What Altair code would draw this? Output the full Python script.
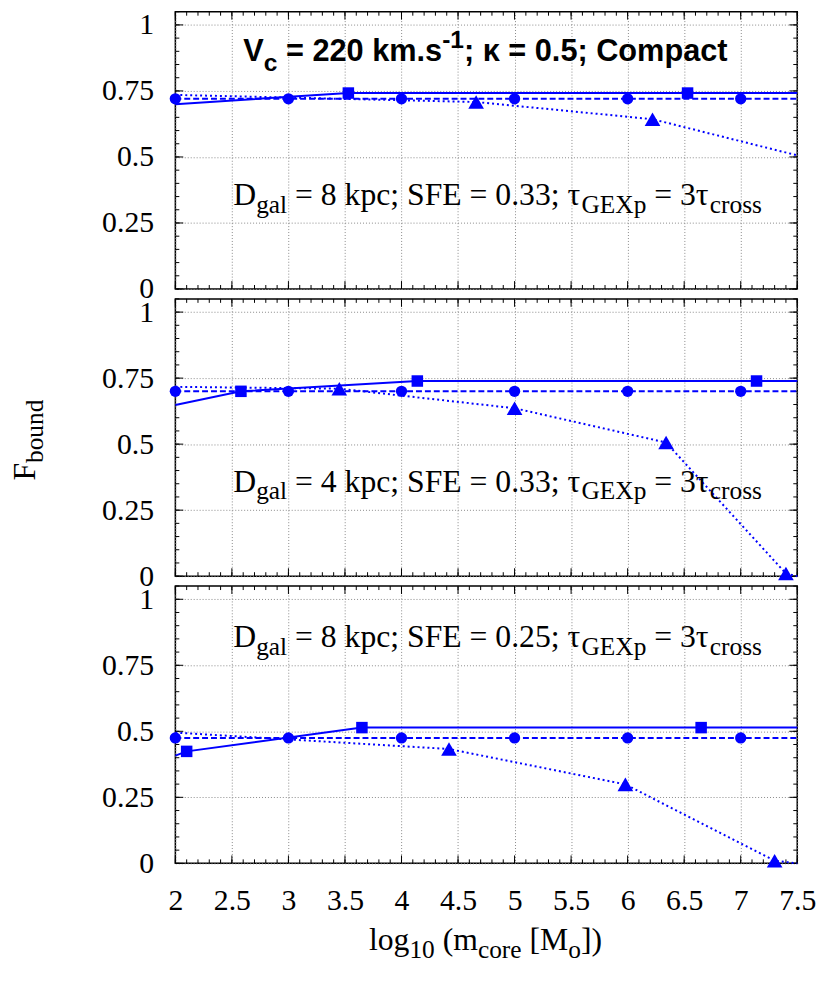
import altair as alt
import pandas as pd
import numpy as np

BLUE = "#0000ff"
GRID = "#8a8a8a"
SERIF = "Liberation Serif"
SANS = "Liberation Sans"
W, H = 628, 280

X_DOMAIN = [2, 7.5]
Y_DOMAIN = [0, 1.05]
X_TICKS = [2, 2.5, 3, 3.5, 4, 4.5, 5, 5.5, 6, 6.5, 7, 7.5]
Y_TICKS = [0, 0.25, 0.5, 0.75, 1]

# ---------------- data ----------------
# Panel 1: D_gal = 8 kpc; SFE = 0.33
p1_circ_x = [2, 3, 4, 5, 6, 7]
p1_circ_y = [0.72, 0.72, 0.72, 0.72, 0.72, 0.72]
p1_dash_x = [2, 3, 4, 5, 6, 7, 7.5]
p1_dash_y = [0.72, 0.72, 0.72, 0.72, 0.72, 0.72, 0.72]
p1_solid_x = [2, 3.53, 6.53, 7.5]
p1_solid_y = [0.70, 0.742, 0.742, 0.742]
p1_sq_x = [3.53, 6.53]
p1_sq_y = [0.742, 0.742]
p1_dot_x = [2, 4.66, 6.22, 7.5]
p1_dot_y = [0.735, 0.708, 0.643, 0.506]
p1_tri_x = [4.66, 6.22]
p1_tri_y = [0.708, 0.643]

# Panel 2: D_gal = 4 kpc; SFE = 0.33
p2_circ_x = [2, 3, 4, 5, 6, 7]
p2_circ_y = [0.70, 0.70, 0.70, 0.70, 0.70, 0.70]
p2_dash_x = [2, 3, 4, 5, 6, 7, 7.5]
p2_dash_y = [0.70, 0.70, 0.70, 0.70, 0.70, 0.70, 0.70]
p2_solid_x = [2, 2.58, 4.14, 7.14, 7.5]
p2_solid_y = [0.648, 0.70, 0.739, 0.739, 0.739]
p2_sq_x = [2.58, 4.14, 7.14]
p2_sq_y = [0.70, 0.739, 0.739]
p2_dot_x = [2, 3.45, 5.0, 6.34, 7.40, 7.5]
p2_dot_y = [0.717, 0.710, 0.636, 0.506, 0.01, 0.0]
p2_tri_x = [3.45, 5.0, 6.34, 7.40]
p2_tri_y = [0.710, 0.636, 0.506, 0.01]

# Panel 3: D_gal = 8 kpc; SFE = 0.25
p3_circ_x = [2, 3, 4, 5, 6, 7]
p3_circ_y = [0.475, 0.475, 0.475, 0.475, 0.475, 0.475]
p3_dash_x = [2, 3, 4, 5, 6, 7, 7.5]
p3_dash_y = [0.475, 0.475, 0.475, 0.475, 0.475, 0.475, 0.475]
p3_solid_x = [2, 2.1, 3.65, 6.65, 7.5]
p3_solid_y = [0.408, 0.424, 0.514, 0.514, 0.514]
p3_sq_x = [2.1, 3.65, 6.65]
p3_sq_y = [0.424, 0.514, 0.514]
p3_dot_x = [2, 4.42, 5.98, 7.30, 7.5]
p3_dot_y = [0.495, 0.433, 0.299, 0.01, 0.0]
p3_tri_x = [4.42, 5.98, 7.30]
p3_tri_y = [0.433, 0.299, 0.01]

# ---------------- text helpers ----------------
TIMES = {' ': 250, '=': 564, '.': 250, ';': 278, '(': 333, ')': 333, '[': 333, ']': 333,
         'a': 444, 'b': 500, 'c': 444, 'd': 500, 'e': 444, 'g': 500, 'k': 500, 'l': 278,
         'm': 778, 'n': 500, 'o': 500, 'p': 500, 'r': 333, 's': 389, 'u': 500, 'x': 500,
         'D': 722, 'E': 611, 'F': 556, 'G': 722, 'M': 889, 'S': 556, 'X': 722, '\u03c4': 440}
HELVB = {' ': 278, '=': 584, '.': 278, ';': 333, '-': 333, 'C': 722, 'V': 667, 'a': 556,
         'c': 556, 'k': 556, 'm': 889, 'o': 611, 'p': 611, 's': 556, 't': 333, '\u03ba': 580}


def seg_width(text, table, fs):
    return sum(table.get(c, 500 if table is TIMES else 556) for c in text) * fs / 1000.0


def rich(segs, x0, y0, size, font, table, weight="normal", scale=0.8,
         sub_dy=8, sup_dy=-12, angle=0, center=False):
    layers = []
    if center:
        total = sum(seg_width(t, table, size if k == "n" else size * scale) for t, k in segs)
        x0 = x0 - total / 2.0
    pos = 0.0
    for text, kind in segs:
        fs = size if kind == "n" else size * scale
        off = 0 if kind == "n" else (sub_dy if kind == "sub" else sup_dy)
        lead = len(text) - len(text.lstrip(' '))
        core = text.strip(' ')
        start = pos + seg_width(' ' * lead, table, fs)
        if angle == 0:
            px, py = x0 + start, y0 + off
        else:
            px, py = x0 + off, y0 - start
        layers.append(
            alt.Chart(pd.DataFrame({"t": [core]}))
            .mark_text(align="left", baseline="alphabetic", font=font, fontSize=fs,
                       fontWeight=weight, angle=angle, color="black")
            .encode(x=alt.value(px), y=alt.value(py), text="t:N")
        )
        pos += seg_width(text, table, fs)
    return layers


def line_segs(dgal, sfe):
    return [("D", "n"), ("gal", "sub"), (f" = {dgal} kpc; SFE = {sfe}; \u03c4", "n"),
            ("GEXp", "sub"), (" = 3\u03c4", "n"), ("cross", "sub")]


xs = alt.Scale(domain=X_DOMAIN, nice=False, zero=False)
ys = alt.Scale(domain=Y_DOMAIN, nice=False, zero=False)

x_major = np.arange(2, 7.501, 0.5)
x_minor = np.round(np.arange(2, 7.501, 0.1), 2)
y_major = np.array(Y_TICKS)
y_minor = np.round(np.arange(0, 1.051, 0.05), 2)


def panel(cx, cy, dx_, dy_, sx_, sy_, qx, qy, tx_, ty_, rx, ry, show_x, texts):
    xaxis = alt.Axis(values=X_TICKS, grid=True, ticks=False, domain=False, labels=show_x,
                     labelExpr="datum.value + ''", labelFont=SERIF, labelFontSize=30,
                     labelColor="black", labelPadding=23, labelFlush=False,
                     labelOverlap=False, gridColor=GRID, gridDash=[1, 2], gridWidth=1,
                     title=None)
    yaxis = alt.Axis(values=Y_TICKS, grid=True, ticks=False, domain=False,
                     labelExpr="datum.value + ''", labelFont=SERIF, labelFontSize=30,
                     labelColor="black", labelPadding=22, labelFlush=False,
                     labelOverlap=False, gridColor=GRID, gridDash=[1, 2], gridWidth=1,
                     title=None)

    X = lambda f: alt.X(f, type="quantitative", scale=xs, axis=xaxis)
    Y = lambda f: alt.Y(f, type="quantitative", scale=ys, axis=yaxis)

    dashed = alt.Chart(pd.DataFrame({"x": dx_, "y": dy_})).mark_line(
        color=BLUE, strokeWidth=2, strokeDash=[6, 3]).encode(x=X("x"), y=Y("y"))
    solid = alt.Chart(pd.DataFrame({"x": sx_, "y": sy_})).mark_line(
        color=BLUE, strokeWidth=2).encode(x=X("x"), y=Y("y"))
    dotted = alt.Chart(pd.DataFrame({"x": tx_, "y": ty_})).mark_line(
        color=BLUE, strokeWidth=2, strokeDash=[2, 3]).encode(x=X("x"), y=Y("y"))
    circ = alt.Chart(pd.DataFrame({"x": cx, "y": cy})).mark_point(
        shape="circle", filled=True, size=130, color=BLUE, opacity=1).encode(x=X("x"), y=Y("y"))
    sq = alt.Chart(pd.DataFrame({"x": qx, "y": qy})).mark_point(
        shape="square", filled=True, size=135, color=BLUE, opacity=1).encode(x=X("x"), y=Y("y"))
    tri = alt.Chart(pd.DataFrame({"x": rx, "y": ry})).mark_point(
        shape="triangle-up", filled=True, size=250, color=BLUE, opacity=1).encode(x=X("x"), y=Y("y"))

    tick_layers = []
    for vals, L in ((x_minor, 4), (x_major, 8)):
        df = pd.DataFrame({"x": vals})
        tick_layers.append(alt.Chart(df).mark_rule(color="black", strokeWidth=1).encode(
            x=X("x"), y=alt.value(H), y2=alt.value(H - L)))
        tick_layers.append(alt.Chart(df).mark_rule(color="black", strokeWidth=1).encode(
            x=X("x"), y=alt.value(0), y2=alt.value(L)))
    for vals, L in ((y_minor, 4), (y_major, 8)):
        df = pd.DataFrame({"y": vals})
        tick_layers.append(alt.Chart(df).mark_rule(color="black", strokeWidth=1).encode(
            y=Y("y"), x=alt.value(0), x2=alt.value(L)))
        tick_layers.append(alt.Chart(df).mark_rule(color="black", strokeWidth=1).encode(
            y=Y("y"), x=alt.value(W), x2=alt.value(W - L)))

    return alt.layer(*tick_layers, dashed, solid, dotted, circ, sq, tri, *texts).properties(
        width=W, height=H)


# text for each panel (positions relative to each plot area)
t1 = rich([("V", "n"), ("c", "sub"), (" = 220 km.s", "n"), ("-1", "sup"),
           ("; \u03ba = 0.5; Compact", "n")], 313.5, 49.5, 31, SANS, HELVB,
          weight="bold", sub_dy=10, sup_dy=-13, center=True)
t1 += rich(line_segs(8, "0.33"), 58.5, 195, 32, SERIF, TIMES)

t2 = rich(line_segs(4, "0.33"), 58.5, 194.5, 32, SERIF, TIMES)
t2 += rich([("F", "n"), ("bound", "sub")], -141.5, 183.5, 32, SERIF, TIMES, angle=270)

t3 = rich(line_segs(8, "0.25"), 58.5, 62, 32, SERIF, TIMES)
t3 += rich([("log", "n"), ("10", "sub"), (" (m", "n"), ("core", "sub"), (" [M", "n"),
            ("o", "sub"), ("])", "n")], 195.5, 368, 32, SERIF, TIMES)

c1 = panel(p1_circ_x, p1_circ_y, p1_dash_x, p1_dash_y, p1_solid_x, p1_solid_y,
           p1_sq_x, p1_sq_y, p1_dot_x, p1_dot_y, p1_tri_x, p1_tri_y, False, t1)
c2 = panel(p2_circ_x, p2_circ_y, p2_dash_x, p2_dash_y, p2_solid_x, p2_solid_y,
           p2_sq_x, p2_sq_y, p2_dot_x, p2_dot_y, p2_tri_x, p2_tri_y, False, t2)
c3 = panel(p3_circ_x, p3_circ_y, p3_dash_x, p3_dash_y, p3_solid_x, p3_solid_y,
           p3_sq_x, p3_sq_y, p3_dot_x, p3_dot_y, p3_tri_x, p3_tri_y, True, t3)

chart = alt.vconcat(c1, c2, c3, spacing=10, bounds="flush").properties(
    padding={"left": 0, "top": -4, "right": 5, "bottom": 5},
    background="white",
).configure_view(stroke="black", strokeWidth=1.5)

chart.save("out.html", embed_options={"renderer": "svg", "actions": False})
